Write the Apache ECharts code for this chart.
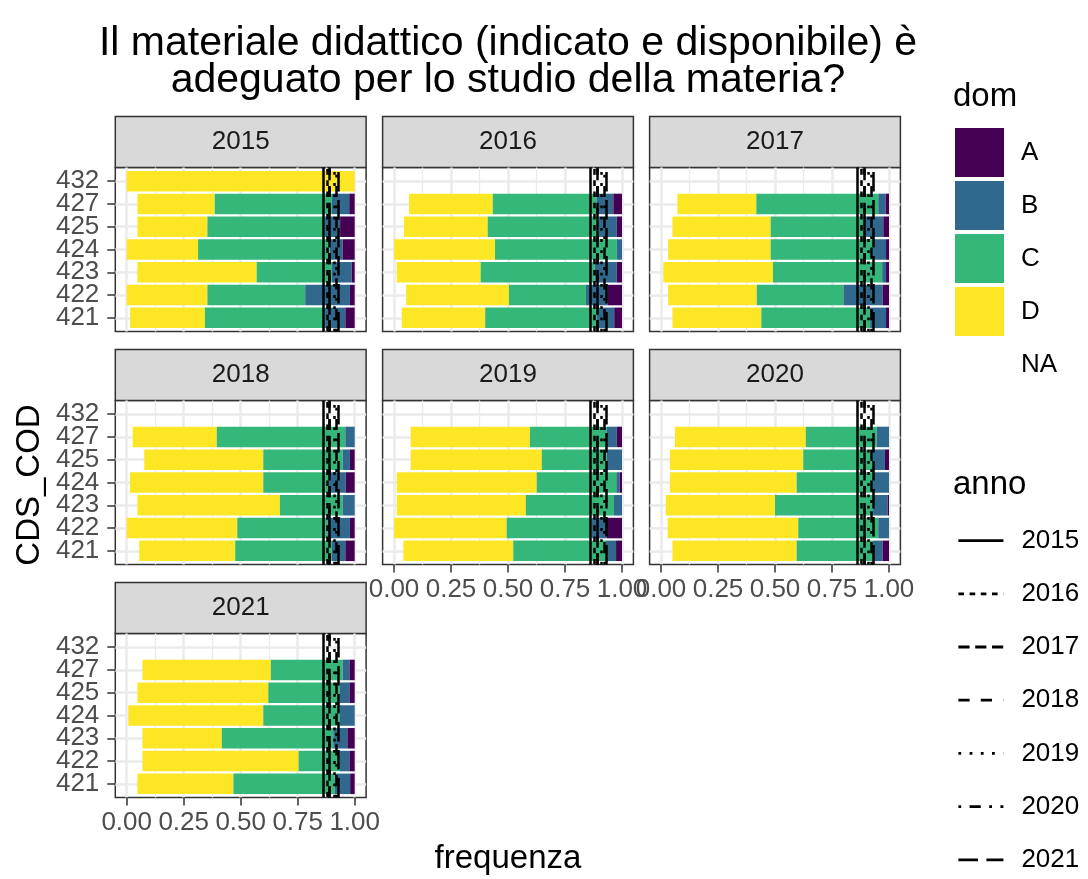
<!DOCTYPE html>
<html>
<head>
<meta charset="utf-8">
<script src="https://cdn.jsdelivr.net/npm/echarts@6/dist/echarts.min.js"></script>
<style>
html, body { margin: 0; padding: 0; background: #fff; }
#chart { width: 1088px; height: 879px; }
</style>
</head>
<body>
<div id="chart"></div>
<script>
// facet years and CDS codes (bottom to top)
var years = ['2015', '2016', '2017', '2018', '2019', '2020', '2021'];
var cds = ['421', '422', '423', '424', '425', '427', '432'];
var xTicks = [0, 0.25, 0.5, 0.75, 1];

// frequencies per year (rows) and CDS (columns), stacked NA -> D -> C -> B -> A
var freqNA = [
  [0.015, 0, 0.047, 0, 0.047, 0.047, 0],
  [0.034, 0.053, 0.012, 0, 0.044, 0.066, null],
  [0.050, 0.031, 0.010, 0.031, 0.050, 0.072, null],
  [0.055, 0, 0.047, 0.014, 0.077, 0.026, null],
  [0.041, 0, 0.012, 0.012, 0.073, 0.073, null],
  [0.050, 0.029, 0.021, 0.039, 0.039, 0.061, null],
  [0.047, 0.069, 0.069, 0.007, 0.047, 0.069, null]
];
var freqD = [
  [0.328, 0.354, 0.523, 0.313, 0.307, 0.339, 1],
  [0.366, 0.451, 0.368, 0.443, 0.367, 0.367, null],
  [0.390, 0.389, 0.481, 0.450, 0.431, 0.346, null],
  [0.421, 0.485, 0.625, 0.585, 0.522, 0.369, null],
  [0.482, 0.494, 0.566, 0.614, 0.575, 0.523, null],
  [0.545, 0.573, 0.479, 0.556, 0.585, 0.574, null],
  [0.421, 0.685, 0.348, 0.592, 0.574, 0.563, null]
];
var freqC = [
  [0.527, 0.429, 0.330, 0.577, 0.516, 0.514, 0],
  [0.490, 0.338, 0.500, 0.534, 0.485, 0.456, null],
  [0.477, 0.380, 0.479, 0.449, 0.407, 0.535, null],
  [0.424, 0.395, 0.275, 0.286, 0.348, 0.564, null],
  [0.407, 0.373, 0.387, 0.349, 0.285, 0.337, null],
  [0.335, 0.351, 0.430, 0.335, 0.306, 0.311, null],
  [0.445, 0.181, 0.489, 0.336, 0.314, 0.315, null]
];
var freqB = [
  [0.089, 0.196, 0.087, 0.057, 0.066, 0.076, 0],
  [0.076, 0.095, 0.097, 0.023, 0.081, 0.073, null],
  [0.070, 0.172, 0.017, 0.057, 0.087, 0.032, null],
  [0.059, 0.099, 0.053, 0.076, 0.032, 0.041, null],
  [0.044, 0.066, 0.035, 0.015, 0.067, 0.044, null],
  [0.042, 0.047, 0.064, 0.070, 0.052, 0.054, null],
  [0.067, 0.042, 0.062, 0.065, 0.042, 0.030, null]
];
var freqA = [
  [0.041, 0.021, 0.013, 0.053, 0.064, 0.024, 0],
  [0.034, 0.063, 0.023, 0, 0.023, 0.038, null],
  [0.013, 0.028, 0.013, 0.013, 0.025, 0.015, null],
  [0.041, 0.021, 0, 0.039, 0.021, 0, null],
  [0.026, 0.067, 0, 0.010, 0, 0.023, null],
  [0.028, 0, 0.006, 0, 0.018, 0, null],
  [0.020, 0.023, 0.032, 0, 0.023, 0.023, null]
];
// one vertical reference line per year (same in every panel)
var annoMean = [0.858, 0.877, 0.885, 0.892, 0.906, 0.924, 0.932];

var domNames = ['NA', 'D', 'C', 'B', 'A'];
var domData = [freqNA, freqD, freqC, freqB, freqA];
var domColors = ['rgba(0,0,0,0)', '#FDE725', '#35B779', '#31688E', '#440154'];
var lw = 2.8;
var annoDash = ['solid', [2 * lw, 2 * lw], [4 * lw, 2 * lw], [4 * lw, 4 * lw], [lw, 3 * lw], [lw, 3 * lw, 4 * lw, 3 * lw], [7 * lw, 3 * lw]];

var FONT = 'Liberation Sans, Arial, Helvetica, sans-serif';
var colZero = [126.7, 394, 661];
var unitX = 228;
var rowTop = [167.5, 400.5, 633.5];
var panelH = 164;
var stripH = 51;
var catUnit = panelH / 7.2;

var grid = [], xAxis = [], yAxis = [], series = [], graphic = [];

years.forEach(function (yr, p) {
  var c = p % 3, r = Math.floor(p / 3);
  var x0 = colZero[c];
  var pLeft = x0 - 0.05 * unitX, pW = 1.1 * unitX;
  var top = rowTop[r];
  var cTop = top + 0.6 * catUnit, cH = 6 * catUnit;
  var isLeft = c === 0;
  var isBottom = p >= 4;
  var g = grid.length;

  // panel background + border
  grid.push({ left: pLeft, top: top, width: pW, height: panelH, show: true, backgroundColor: '#fff', borderColor: '#333', borderWidth: 1.5, z: -1 });
  xAxis.push({ type: 'value', gridIndex: g, show: false, min: 0, max: 1 });
  yAxis.push({ type: 'value', gridIndex: g, show: false, min: 0, max: 1 });

  // vertical grid lines + x labels
  grid.push({ left: x0, top: top, width: unitX, height: panelH });
  xAxis.push({
    type: 'value', gridIndex: g + 1, min: 0, max: 1, interval: 0.25,
    axisLine: { show: false },
    axisTick: { show: isBottom, length: 8, lineStyle: { color: '#333', width: 1.5 } },
    axisLabel: { show: isBottom, margin: 12, fontSize: 26, color: '#4D4D4D', fontFamily: FONT,
      showMinLabel: true, showMaxLabel: true, formatter: function (v) { return v.toFixed(2); } },
    splitLine: { show: true, lineStyle: { color: '#EBEBEB', width: 2.5 } },
    minorTick: { show: false, splitNumber: 2 },
    minorSplitLine: { show: true, lineStyle: { color: '#EBEBEB', width: 1.3 } }
  });
  yAxis.push({ type: 'value', gridIndex: g + 1, show: false, min: 0, max: 1 });

  // horizontal grid lines + y labels
  grid.push({ left: pLeft, top: cTop, width: pW, height: cH });
  xAxis.push({ type: 'value', gridIndex: g + 2, show: false, min: 0, max: 1 });
  yAxis.push({
    type: 'category', gridIndex: g + 2, data: cds, boundaryGap: false,
    axisLine: { show: false },
    axisTick: { show: isLeft, length: 8, alignWithLabel: true, lineStyle: { color: '#333', width: 1.5 } },
    axisLabel: { show: isLeft, margin: 16, fontSize: 26, color: '#4D4D4D', fontFamily: FONT, interval: 0 },
    splitLine: { show: true, interval: 0, lineStyle: { color: '#EBEBEB', width: 2.5 } }
  });

  // data grid
  grid.push({ left: x0, top: cTop, width: unitX, height: cH });
  xAxis.push({ type: 'value', gridIndex: g + 3, show: false, min: 0, max: 1 });
  yAxis.push({ type: 'category', gridIndex: g + 3, data: cds, boundaryGap: false, show: false });

  domNames.forEach(function (d, k) {
    series.push({
      name: d, type: 'bar', xAxisIndex: g + 3, yAxisIndex: g + 3,
      stack: 'p' + yr, barWidth: '90%', clip: false, silent: true,
      itemStyle: { color: domColors[k] },
      data: domData[k][p]
    });
  });

  years.forEach(function (ay, k) {
    series.push({
      name: ay, type: 'line', xAxisIndex: g + 1, yAxisIndex: g + 1,
      data: [], symbol: 'none', z: 5, silent: true,
      itemStyle: { color: '#000' },
      lineStyle: { color: '#000', width: 2.5, type: annoDash[k] },
      markLine: {
        silent: true, symbol: 'none', animation: false,
        label: { show: false },
        lineStyle: { color: '#000', width: 2.5, type: annoDash[k] },
        data: [{ xAxis: annoMean[k] }]
      }
    });
  });

  // facet strip
  graphic.push({
    type: 'rect', shape: { x: pLeft, y: top - stripH, width: pW, height: stripH },
    style: { fill: '#D9D9D9', stroke: '#333', lineWidth: 1.5 }, silent: true
  });
  graphic.push({
    type: 'text', x: pLeft + pW / 2, y: top - stripH / 2,
    style: { text: yr, font: '26px ' + FONT, fill: '#1A1A1A', textAlign: 'center', textVerticalAlign: 'middle' },
    silent: true
  });
});

// titles
graphic.push({
  type: 'text', x: 508, y: 25,
  style: { text: 'Il materiale didattico (indicato e disponibile) è\nadeguato per lo studio della materia?',
    font: '41px ' + FONT, fill: '#000', textAlign: 'center', lineHeight: 37 }, silent: true
});
graphic.push({
  type: 'text', x: 508, y: 859,
  style: { text: 'frequenza', font: '33px ' + FONT, fill: '#000', textAlign: 'center', textVerticalAlign: 'middle' }, silent: true
});
graphic.push({
  type: 'text', x: 30, y: 485, rotation: Math.PI / 2,
  style: { text: 'CDS_COD', font: '33px ' + FONT, fill: '#000', textAlign: 'center', textVerticalAlign: 'middle' }, silent: true
});
graphic.push({
  type: 'text', x: 953, y: 97,
  style: { text: 'dom', font: '33px ' + FONT, fill: '#000', textAlign: 'left', textVerticalAlign: 'middle' }, silent: true
});
graphic.push({
  type: 'text', x: 953, y: 485,
  style: { text: 'anno', font: '33px ' + FONT, fill: '#000', textAlign: 'left', textVerticalAlign: 'middle' }, silent: true
});

var chart = echarts.init(document.getElementById('chart'));
chart.setOption({
  animation: false,
  textStyle: { fontFamily: FONT },
  grid: grid,
  xAxis: xAxis,
  yAxis: yAxis,
  legend: [
    {
      data: ['A', 'B', 'C', 'D', 'NA'], orient: 'vertical', left: 950, top: 123, height: 320,
      itemWidth: 49, itemHeight: 49, itemGap: 4, icon: 'rect', selectedMode: false,
      textStyle: { fontSize: 26, color: '#000', fontFamily: FONT, padding: [0, 0, 0, 12] }
    },
    {
      data: years, orient: 'vertical', left: 952, top: 516, height: 400,
      itemWidth: 45, itemHeight: 49, itemGap: 14, selectedMode: false,
      itemStyle: { opacity: 0 },
      lineStyle: { width: 2.8, color: '#000' },
      textStyle: { fontSize: 26, color: '#000', fontFamily: FONT, padding: [0, 0, 0, 13] }
    }
  ],
  series: series,
  graphic: graphic
});
</script>
</body>
</html>
